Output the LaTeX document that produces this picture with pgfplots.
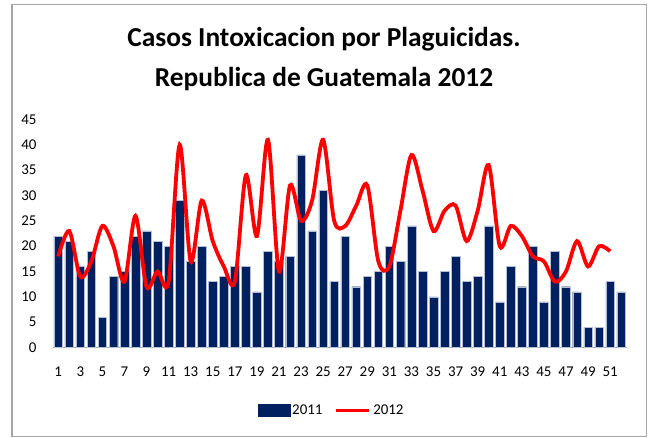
\documentclass[border=0pt]{standalone}
\usepackage{fontspec}
\setmainfont{Carlito}
\usepackage{pgfplots}
\pgfplotsset{compat=1.18}
\definecolor{navy}{HTML}{002060}
\definecolor{frameGray}{HTML}{A6A6A6}
\definecolor{barEdge}{HTML}{B4BED2}
\begin{document}
\begin{tikzpicture}[x=1bp,y=1bp]
\useasboundingbox (0,0) rectangle (650,-438);
% chart frame
\draw[frameGray, line width=1.5bp] (12,-4.5) rectangle (646.5,-436.5);
% title
\node[font=\fontsize{27.5}{33}\selectfont\bfseries, anchor=base, inner sep=0pt]
  at (324,-46.7) {Casos Intoxicacion por Plaguicidas.};
\node[font=\fontsize{27.5}{33}\selectfont\bfseries, anchor=base, inner sep=0pt]
  at (324,-86.7) {Republica de Guatemala 2012};
\begin{axis}[
  at={(52.7bp,-347.5bp)}, anchor=south west,
  scale only axis, width=574bp, height=228bp,
  xmin=0.5, xmax=52.5, ymin=0, ymax=45,
  ytick={0,5,...,45}, xtick={1,3,...,51},
  axis lines*=left,
  y axis line style={draw=none},
  x axis line style={draw=frameGray, line width=1.5bp},
  major tick length=0pt, tick style={draw=none},
  ticklabel style={font=\fontsize{15}{18}\selectfont},
  /pgf/number format/assume math mode=true,
  yticklabel style={xshift=-12.7bp},
  xticklabel style={yshift=-15.5bp},
  legend columns=2,
  legend style={draw=none, fill=none, at={(0.486,-0.276)}, anchor=center,
    font=\fontsize{15}{18}\selectfont,
    /tikz/every even column/.append style={column sep=10bp}},
]
% 2011 weekly cases
\addplot[ybar, bar width=8.6bp, fill=navy, draw=barEdge, line width=0.4bp,
  legend image code/.code={\fill[navy] (0bp,-6bp) rectangle (32bp,6bp);}]
coordinates {
(1,22) (2,21) (3,16) (4,19) (5,6) (6,14) (7,15) (8,22) (9,23) (10,21)
(11,20) (12,29) (13,17) (14,20) (15,13) (16,14) (17,16) (18,16) (19,11) (20,19)
(21,17) (22,18) (23,38) (24,23) (25,31) (26,13) (27,22) (28,12) (29,14) (30,15)
(31,20) (32,17) (33,24) (34,15) (35,10) (36,15) (37,18) (38,13) (39,14) (40,24)
(41,9) (42,16) (43,12) (44,20) (45,9) (46,19) (47,12) (48,11) (49,4) (50,4)
(51,13) (52,11)};
\addlegendentry{2011}
% 2012 weekly cases
\addplot[red, line width=3.8bp, smooth, tension=0.5,
  legend image code/.code={\draw[red, line width=3.8bp] (0bp,0bp) -- (33bp,0bp);}]
coordinates {
(1,18) (2,23) (3,14) (4,17) (5,24) (6,20) (7,13) (8,26) (9,12) (10,15)
(11,13) (12,40) (13,17) (14,29) (15,21) (16,16) (17,13) (18,34) (19,22) (20,41)
(21,15) (22,32) (23,25) (24,29) (25,41) (26,25) (27,24) (28,28) (29,32) (30,17)
(31,16) (32,27) (33,38) (34,31) (35,23) (36,27) (37,28) (38,21) (39,27) (40,36)
(41,20) (42,24) (43,22) (44,18) (45,17) (46,13) (47,15) (48,21) (49,16) (50,20)
(51,19)};
\addlegendentry{2012}
\end{axis}
\end{tikzpicture}
\end{document}
